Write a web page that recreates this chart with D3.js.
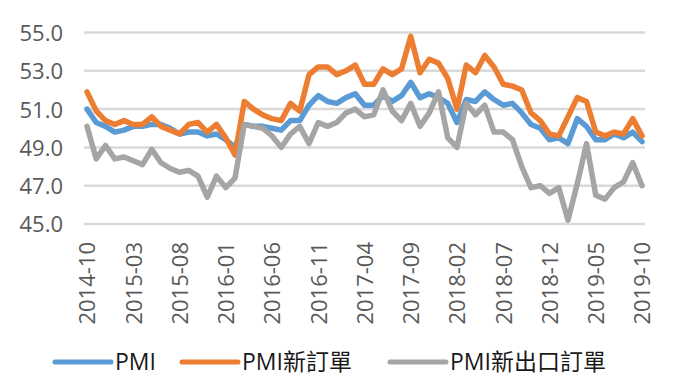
<!DOCTYPE html>
<html>
<head>
<meta charset="utf-8">
<script src="https://cdn.jsdelivr.net/npm/d3@7"></script>
<style>
  body { margin: 0; background: #fff; }
  svg { display: block; }
</style>
</head>
<body>
<div id="chart"></div>
<script>
// months 2014-10 .. 2019-10
var months = [];
(function() {
  var y = 2014, m = 10;
  while (y < 2019 || (y === 2019 && m <= 10)) {
    months.push(y + "-" + (m < 10 ? "0" + m : m));
    m++;
    if (m > 12) { m = 1; y++; }
  }
})();

var tickLabels = ["2014-10", "2015-03", "2015-08", "2016-01", "2016-06", "2016-11", "2017-04",
  "2017-09", "2018-02", "2018-07", "2018-12", "2019-05", "2019-10"];
var yTicks = [45, 47, 49, 51, 53, 55];

var pmi = [51.0, 50.3, 50.1,
  49.8, 49.9, 50.1, 50.1, 50.2, 50.2, 50.0, 49.7, 49.8, 49.8, 49.6, 49.7,
  49.4, 49.0, 50.2, 50.1, 50.1, 50.0, 49.9, 50.4, 50.4, 51.2, 51.7, 51.4,
  51.3, 51.6, 51.8, 51.2, 51.2, 51.7, 51.4, 51.7, 52.4, 51.6, 51.8, 51.6,
  51.3, 50.3, 51.5, 51.4, 51.9, 51.5, 51.2, 51.3, 50.8, 50.2, 50.0, 49.4,
  49.5, 49.2, 50.5, 50.1, 49.4, 49.4, 49.7, 49.5, 49.8, 49.3];

var newOrders = [51.9, 50.9, 50.4,
  50.2, 50.4, 50.2, 50.2, 50.6, 50.1, 49.9, 49.7, 50.2, 50.3, 49.8, 50.2,
  49.5, 48.6, 51.4, 51.0, 50.7, 50.5, 50.4, 51.3, 50.9, 52.8, 53.2, 53.2,
  52.8, 53.0, 53.3, 52.3, 52.3, 53.1, 52.8, 53.1, 54.8, 52.9, 53.6, 53.4,
  52.6, 51.0, 53.3, 52.9, 53.8, 53.2, 52.3, 52.2, 52.0, 50.8, 50.4, 49.7,
  49.6, 50.6, 51.6, 51.4, 49.8, 49.6, 49.8, 49.7, 50.5, 49.6];

var exportOrders = [50.1, 48.4, 49.1,
  48.4, 48.5, 48.3, 48.1, 48.9, 48.2, 47.9, 47.7, 47.8, 47.5, 46.4, 47.5,
  46.9, 47.4, 50.2, 50.1, 50.0, 49.6, 49.0, 49.7, 50.1, 49.2, 50.3, 50.1,
  50.3, 50.8, 51.0, 50.6, 50.7, 52.0, 50.9, 50.4, 51.3, 50.1, 50.8, 51.9,
  49.5, 49.0, 51.3, 50.7, 51.2, 49.8, 49.8, 49.4, 48.0, 46.9, 47.0, 46.6,
  46.9, 45.2, 47.1, 49.2, 46.5, 46.3, 46.9, 47.2, 48.2, 47.0];

var seriesNames = ["PMI", "PMI新訂單", "PMI新出口訂單"];
var seriesColors = ["#5b9bd5", "#ed7d31", "#a5a5a5"];
var seriesData = [pmi, newOrders, exportOrders];

var width = 680, height = 388;
var textColor = "#595959";

var svg = d3.select("#chart").append("svg")
  .attr("width", width)
  .attr("height", height);

var x = d3.scalePoint()
  .domain(months)
  .range([87, 642]);

var y = d3.scaleLinear()
  .domain([45, 55])
  .range([224, 32.5]);

// gridlines
svg.append("g")
  .selectAll("line")
  .data(yTicks)
  .enter()
  .append("line")
  .attr("x1", 84)
  .attr("x2", 645)
  .attr("y1", function(d) { return y(d); })
  .attr("y2", function(d) { return y(d); })
  .attr("stroke", "#d9d9d9")
  .attr("stroke-width", 2.5);

// y axis labels
var yAxis = d3.axisLeft(y)
  .tickValues(yTicks)
  .tickFormat(d3.format(".1f"))
  .tickSize(0)
  .tickPadding(0);

svg.append("g")
  .attr("transform", "translate(63,0)")
  .call(yAxis)
  .call(function(g) { g.select(".domain").remove(); })
  .selectAll("text")
  .attr("fill", textColor)
  .attr("font-family", "'Open Sans', sans-serif")
  .attr("font-size", "22px")
  .attr("dy", "0.36em");

// x axis labels, rotated
var xAxis = d3.axisBottom(x)
  .tickValues(tickLabels)
  .tickSize(0)
  .tickPadding(0);

svg.append("g")
  .attr("transform", "translate(0,242)")
  .call(xAxis)
  .call(function(g) { g.select(".domain").remove(); })
  .selectAll("text")
  .attr("fill", textColor)
  .attr("font-family", "'Open Sans', sans-serif")
  .attr("font-size", "22px")
  .attr("text-anchor", "end")
  .attr("transform", "rotate(-90)")
  .attr("x", 0)
  .attr("y", 0)
  .attr("dy", "0.36em");

// lines
var line = d3.line()
  .x(function(d, i) { return x(months[i]); })
  .y(function(d) { return y(d); });

svg.append("g")
  .selectAll("path")
  .data(seriesData)
  .enter()
  .append("path")
  .attr("d", line)
  .attr("fill", "none")
  .attr("stroke", function(d, i) { return seriesColors[i]; })
  .attr("stroke-width", 5.5)
  .attr("stroke-linejoin", "round")
  .attr("stroke-linecap", "round");

// legend
var legendX = [53, 180, 388];
var legend = svg.append("g")
  .selectAll("g")
  .data(seriesNames)
  .enter()
  .append("g")
  .attr("transform", function(d, i) { return "translate(" + legendX[i] + ",362)"; });

legend.append("line")
  .attr("x1", 2)
  .attr("x2", 58)
  .attr("stroke", function(d, i) { return seriesColors[i]; })
  .attr("stroke-width", 5)
  .attr("stroke-linecap", "round");

legend.append("text")
  .attr("x", 62)
  .attr("dy", "0.36em")
  .attr("fill", "#1a1a1a")
  .attr("font-family", "'Open Sans', 'Noto Sans CJK TC', sans-serif")
  .attr("font-size", "23px")
  .text(function(d) { return d; });
</script>
</body>
</html>
